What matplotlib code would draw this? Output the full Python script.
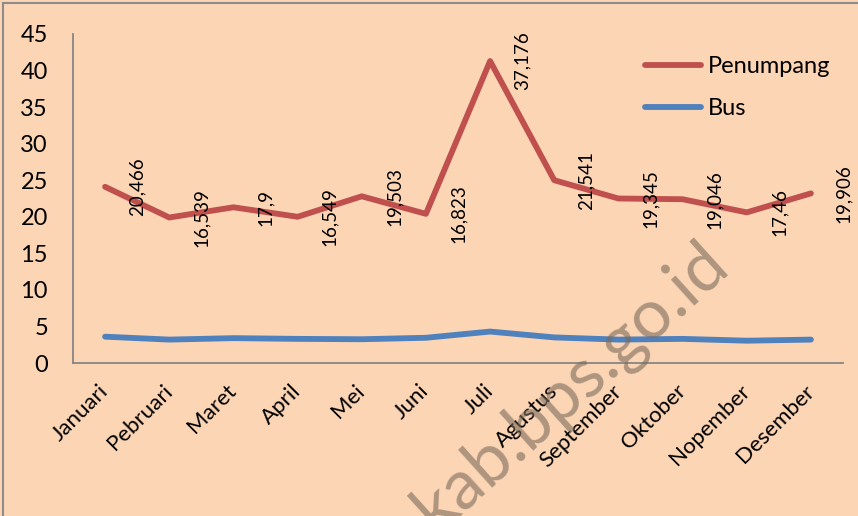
import matplotlib.pyplot as plt
from matplotlib.lines import Line2D

months = ['Januari', 'Pebruari', 'Maret', 'April', 'Mei', 'Juni', 'Juli',
          'Agustus', 'September', 'Oktober', 'Nopember', 'Desember']
penumpang = [24.1, 19.9, 21.3, 20.0, 22.8, 20.4, 41.3, 25.0, 22.5, 22.4, 20.6, 23.2]
bus = [3.6, 3.2, 3.4, 3.3, 3.25, 3.45, 4.3, 3.5, 3.2, 3.3, 3.05, 3.2]
labels = ['20,466', '16,539', '17,9', '16,549', '19,503', '16,823', '37,176',
          '21,541', '19,345', '19,046', '17,46', '19,906']
yticks = [0, 5, 10, 15, 20, 25, 30, 35, 40, 45]

plt.rcParams['font.family'] = ['Lato', 'DejaVu Sans']
bg = '#FCD5B5'

fig = plt.figure(figsize=(8.58, 5.16), dpi=100, facecolor=bg)
ax = fig.add_axes([73/858, 1-363/516, 770/858, 329/516])
ax.set_facecolor(bg)

x = list(range(len(months)))
ax.plot(x, penumpang, color='#C0504D', lw=4.2, label='Penumpang', solid_capstyle='round')
ax.plot(x, bus, color='#4F81BD', lw=4.2, label='Bus', solid_capstyle='round')

for i, (v, t) in enumerate(zip(penumpang, labels)):
    ax.text(i + 0.5, v, t, rotation=90, ha='center', va='center', fontsize=13.5)

ax.set_xlim(-0.5, 11.5)
ax.set_ylim(0, 45)
ax.set_yticks(yticks)
ax.set_xticks(x)
ax.set_xticklabels(months, rotation=45, ha='right', va='center', rotation_mode='anchor', fontsize=16)
ax.tick_params(axis='y', length=0, pad=18, labelsize=17)
ax.tick_params(axis='x', length=0, pad=18)
for s in ['top', 'right']:
    ax.spines[s].set_visible(False)
for s in ['left', 'bottom']:
    ax.spines[s].set_color('#868686')
    ax.spines[s].set_linewidth(1.3)

leg = ax.legend(loc='upper left', bbox_to_anchor=(633/858, 1-44/516), bbox_transform=fig.transFigure,
                frameon=False, fontsize=17, handlelength=2.4, handletextpad=0.25,
                labelspacing=0.9, borderpad=0)

# watermark
fig.text(570/858, 1-387/516, 'kab.bps.go.id', fontsize=50, rotation=42, color='#7a6a5a',
         alpha=0.6, ha='center', va='center', rotation_mode='anchor')

# outer frame
fig.add_artist(Line2D([3/858, 3/858], [0, 1-3/516], color='#8c8c8c', lw=1.5, transform=fig.transFigure))
fig.add_artist(Line2D([3/858, 1], [1-3/516, 1-3/516], color='#8c8c8c', lw=1.5, transform=fig.transFigure))

fig.savefig('out.png', dpi=100, facecolor=bg)
